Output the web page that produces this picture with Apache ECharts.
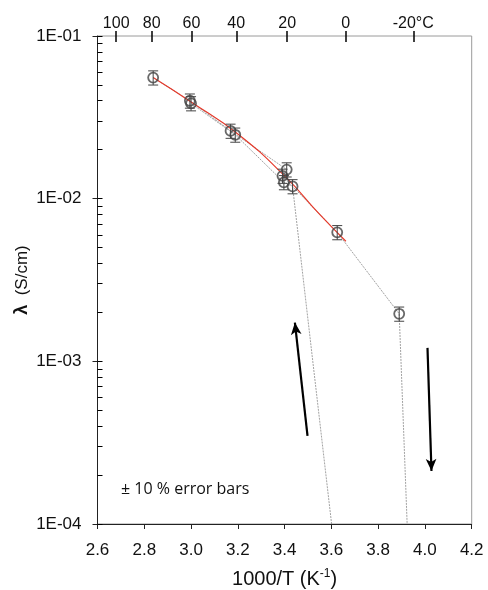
<!DOCTYPE html>
<html>
<head>
<meta charset="utf-8">
<script src="https://cdn.jsdelivr.net/npm/echarts@6/dist/echarts.min.js"></script>
<style>
  html, body { margin: 0; padding: 0; background: #fff; }
  #chart { width: 488px; height: 590px; }
</style>
</head>
<body>
<div id="chart"></div>
<script>
// measured points, 1000/T (K^-1) vs conductivity (S/cm)
var measuredPoints = [
  [2.838, 0.0555],
  [2.995, 0.0400],
  [3.000, 0.0385],
  [3.169, 0.0261],
  [3.189, 0.0247],
  [3.409, 0.0151],
  [3.391, 0.0138],
  [3.397, 0.0126],
  [3.434, 0.0119],
  [3.625, 0.00621],
  [3.890, 0.00196]
];
// thin grey path on cooling (runs off the bottom at ~3.92)
var coolingPath = [
  [2.838, 0.0555], [2.995, 0.0400], [3.169, 0.0261], [3.409, 0.0151],
  [3.391, 0.0138], [3.434, 0.0119], [3.625, 0.00621], [3.890, 0.00196],
  [3.924, 0.0001]
];
// thin grey path on heating (comes up from ~3.60)
var heatingPath = [
  [3.601, 0.0001], [3.434, 0.0119], [3.397, 0.0126], [3.189, 0.0247],
  [3.000, 0.0385]
];
// red fitted curve
var fitCurve = [
  [2.838, 0.0555], [3.000, 0.0393], [3.200, 0.0250], [3.400, 0.0138],
  [3.550, 0.00800], [3.662, 0.00547]
];
var arrowUp = [[3.498, 0.000348], [3.444, 0.00173]];
var arrowDown = [[4.011, 0.00121], [4.028, 0.000212]];
var errorFraction = 0.10;

var xMin = 2.6, xMax = 4.2, xStep = 0.2;
var yMin = 1e-4, yMax = 1e-1;
var tempLabels = [100, 80, 60, 40, 20, 0, -20];
var minorMantissas = [1, 2, 3, 4, 5, 6, 7, 8, 9];
var decades = [1e-4, 1e-3, 1e-2];

var fontMain = "'Liberation Sans', Arial, sans-serif";

var tempTicks = tempLabels.map(function (t) { return 1000 / (t + 273.15); });
var yTickValues = [yMax];
decades.forEach(function (d) {
  minorMantissas.forEach(function (m) { yTickValues.push(m * d); });
});

// plot box size in px, used only to turn a tick length into axis units
var plotW = 488 - 97.5 - 16.3, plotH = 590 - 36 - 66;
var tickX = 5 * (xMax - xMin) / plotW;                 // 5px along x
var tickY = Math.pow(10, -6 * 3 / plotH);              // 6px down on log y

var chart = echarts.init(document.getElementById('chart'));

var greyPath = {
  type: 'line',
  symbol: 'none',
  silent: true,
  z: 2,
  lineStyle: { color: '#8a8a8a', width: 0.8, type: [2, 1] }
};

function segmentLines(name, pairs, width) {
  return {
    name: name, type: 'line', data: [], silent: true, z: 6,
    markLine: {
      silent: true, symbol: ['none', 'none'], animation: false,
      label: { show: false },
      lineStyle: { color: '#000', width: width, type: 'solid' },
      data: pairs.map(function (p) { return [{ coord: p[0] }, { coord: p[1] }]; })
    }
  };
}

chart.setOption({
  animation: false,
  grid: {
    left: 97.5, right: 16.3, top: 36, bottom: 66,
    outerBoundsMode: 'none',
    show: true, borderColor: '#9a9a9a', borderWidth: 1, backgroundColor: 'transparent'
  },
  graphic: [{
    type: 'text', left: 121, top: 481, z: 10,
    style: { text: '\u00b1 10 % error bars', font: "16px 'Open Sans', sans-serif", fill: '#111' }
  }],
  xAxis: [{
    type: 'value', position: 'bottom', min: xMin, max: xMax, interval: xStep,
    axisLine: { lineStyle: { color: '#222', width: 1 } },
    axisTick: { length: 5, lineStyle: { color: '#222' } },
    splitLine: { show: false },
    axisLabel: {
      margin: 18, fontSize: 17, color: '#111', fontFamily: fontMain,
      formatter: function (v) { return v.toFixed(1); }
    },
    name: '{n|1000/T (K}{s|-1}{n|)}',
    nameLocation: 'middle', nameGap: 44, nameMoveOverlap: false,
    nameTextStyle: {
      rich: {
        n: { fontSize: 20, color: '#111', fontFamily: fontMain, lineHeight: 22 },
        s: { fontSize: 12, color: '#111', fontFamily: fontMain, verticalAlign: 'top', lineHeight: 22 }
      }
    }
  }, {
    type: 'value', position: 'top', min: xMin, max: xMax,
    axisLine: { show: false },
    axisTick: { customValues: tempTicks, length: 5, lineStyle: { color: '#000', width: 1.5 } },
    splitLine: { show: false },
    axisLabel: {
      customValues: tempTicks, margin: 4, fontSize: 16, color: '#111', fontFamily: fontMain,
      formatter: function (v) {
        var t = Math.round(1000 / v - 273.15);
        return t === tempLabels[tempLabels.length - 1] ? t + '\u00b0C' : String(t);
      }
    }
  }],
  yAxis: [{
    type: 'log', logBase: 10, position: 'left', min: yMin, max: yMax,
    axisLine: { lineStyle: { color: '#222', width: 1 } },
    axisTick: { length: 5, lineStyle: { color: '#222' } },
    splitLine: { show: false },
    minorTick: { show: false },
    axisLabel: {
      margin: 16, fontSize: 17, color: '#111', fontFamily: fontMain,
      formatter: function (v) {
        var e = Math.round(Math.log10(v));
        return '1E-' + ('0' + (-e)).slice(-2);
      }
    },
    name: '{b|\u03bb}  (S/cm)',
    nameLocation: 'middle', nameGap: 66, nameMoveOverlap: false,
    nameTextStyle: {
      fontSize: 17, color: '#111', fontFamily: fontMain,
      rich: { b: { fontSize: 18, fontWeight: 'bold', color: '#111', fontFamily: fontMain } }
    }
  }],
  series: [
    Object.assign({ name: 'cooling', data: coolingPath }, greyPath),
    Object.assign({ name: 'heating', data: heatingPath }, greyPath),
    {
      name: 'fit', type: 'line', data: fitCurve, smooth: true, symbol: 'none', z: 3,
      lineStyle: { color: '#e5392a', width: 1.2 }
    },
    {
      name: 'errors', type: 'custom', data: measuredPoints, z: 4,
      renderItem: function (params, api) {
        var x = api.value(0), y = api.value(1);
        var top = api.coord([x, y * (1 + errorFraction)]);
        var bot = api.coord([x, y * (1 - errorFraction)]);
        var hw = 5;
        var st = { stroke: '#444', lineWidth: 1 };
        return {
          type: 'group',
          children: [
            { type: 'line', shape: { x1: top[0], y1: top[1], x2: bot[0], y2: bot[1] }, style: st },
            { type: 'line', shape: { x1: top[0] - hw, y1: top[1], x2: top[0] + hw, y2: top[1] }, style: st },
            { type: 'line', shape: { x1: bot[0] - hw, y1: bot[1], x2: bot[0] + hw, y2: bot[1] }, style: st }
          ]
        };
      }
    },
    {
      name: 'points', type: 'scatter', data: measuredPoints, z: 5,
      symbol: 'circle', symbolSize: 10,
      itemStyle: { color: 'rgba(255,255,255,0)', borderColor: '#444', borderWidth: 1.8 }
    },
    // inward tick marks: decade sub-ticks on the left edge, temperature ticks under the top edge
    segmentLines('yTicks', yTickValues.map(function (v) {
      return [[xMin, v], [xMin + tickX, v]];
    }), 1),
    segmentLines('tTicks', tempTicks.map(function (v) {
      return [[v, yMax], [v, yMax * tickY]];
    }), 1.5),
    {
      name: 'arrows', type: 'line', data: [], silent: true,
      markLine: {
        silent: true, symbol: ['none', 'arrow'], symbolSize: [8, 12],
        label: { show: false },
        lineStyle: { color: '#000', width: 2.2, type: 'solid' },
        data: [
          [{ coord: arrowUp[0] }, { coord: arrowUp[1] }],
          [{ coord: arrowDown[0] }, { coord: arrowDown[1] }]
        ]
      }
    }
  ]
});
</script>
</body>
</html>
